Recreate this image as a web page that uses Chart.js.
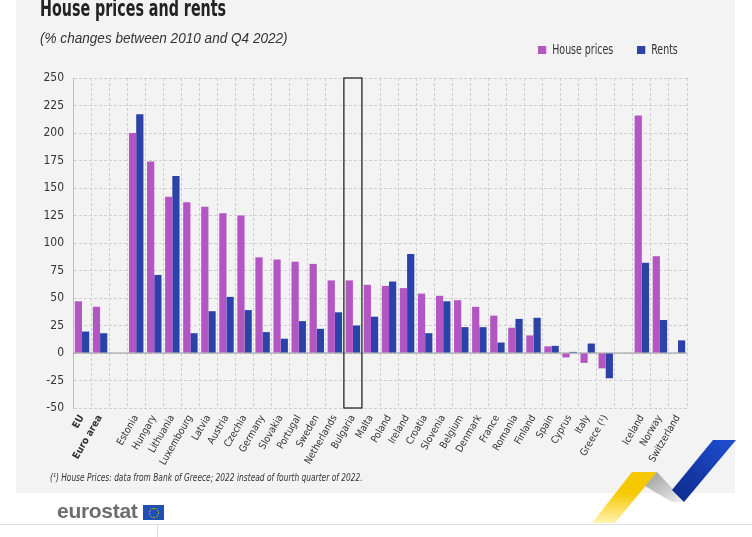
<!DOCTYPE html>
<html>
<head>
<meta charset="utf-8">
<script src="https://cdn.jsdelivr.net/npm/chart.js@4/dist/chart.umd.min.js"></script>
<style>
  body { margin: 0; background: #fff; }
  #wrap { position: relative; width: 752px; height: 537px; overflow: hidden; font-family: "DejaVu Sans Condensed", "Liberation Sans Narrow", sans-serif; }
  #panel { position: absolute; left: 16px; top: 0; width: 719px; height: 493px; background: #f3f3f3; }
  #chartBox { position: absolute; left: 0; top: 0; width: 752px; height: 537px; }
  .narrow { transform-origin: 0 0; white-space: nowrap; }
  .title { position: absolute; left: 40px; top: -5px; font-size: 23px; font-weight: bold; color: #222; transform: scaleX(0.69); }
  .subtitle { position: absolute; left: 40px; top: 30px; font-size: 14px; font-style: italic; color: #333; font-family: "Liberation Sans", sans-serif; transform: scaleX(0.97); }
  .legend { position: absolute; top: 41px; font-size: 14px; color: #333; transform: scaleX(0.75); }
  .legend span.box { display: inline-block; width: 11px; height: 8px; margin-right: 8px; vertical-align: 0px; }
  .note { position: absolute; left: 50px; top: 471px; font-size: 11px; font-style: italic; color: #333; transform: scaleX(0.755); }
  .logo { position: absolute; left: 57px; top: 499px; font-family: "Liberation Sans", sans-serif; font-weight: bold; font-size: 21px; color: #6d6d6d; letter-spacing: -0.3px; }
  .flag { position: absolute; left: 143px; top: 505px; width: 21px; height: 15px; background: #1f4fb3; }
  .flag i { position: absolute; left: 6px; top: 3px; width: 8px; height: 8px; border: 1px dotted #ffd200; border-radius: 50%; }
  #rule { position: absolute; left: 0; top: 524px; width: 752px; height: 1px; background: #ddd; }
  #tick { position: absolute; left: 157px; top: 525px; width: 1px; height: 12px; background: #ddd; }
</style>
</head>
<body>
<div id="wrap">
  <div id="panel"></div>
  <svg style="position:absolute;left:0;top:0" width="752" height="537">
    <defs>
      <linearGradient id="gy" x1="0" y1="1" x2="0" y2="0">
        <stop offset="0" stop-color="#fff3b0"/><stop offset="0.6" stop-color="#f6c800"/>
      </linearGradient>
      <linearGradient id="gg" x1="0" y1="0" x2="1" y2="1">
        <stop offset="0" stop-color="#9a9a9a"/><stop offset="1" stop-color="#f0f0f0"/>
      </linearGradient>
      <linearGradient id="gb" x1="0" y1="1" x2="1" y2="0">
        <stop offset="0" stop-color="#0c2a8a"/><stop offset="1" stop-color="#1f4fd0"/>
      </linearGradient>
    </defs>
    <polygon points="592,523 615,523 657,472 632,472" fill="url(#gy)"/>
    <polygon points="645,486 657,472 685,502 672,502" fill="url(#gg)"/>
    <polygon points="713,440 736,440 684,502 672,490" fill="url(#gb)"/>
  </svg>
  <div id="chartBox"><canvas id="myChart" width="752" height="537"></canvas></div>
  <div class="title narrow">House prices and rents</div>
  <div class="subtitle narrow">(% changes between 2010 and Q4 2022)</div>
  <div class="legend narrow" style="left:538px"><span class="box" style="background:#b455c4"></span>House prices</div>
  <div class="legend narrow" style="left:637px"><span class="box" style="background:#2b43a8"></span>Rents</div>
  <div class="note narrow">(¹) House Prices: data from Bank of Greece; 2022 instead of fourth quarter of 2022.</div>
  <div class="logo">eurostat</div>
  <div class="flag"><i></i></div>
  <div id="rule"></div>
  <div id="tick"></div>
</div>
<script>
const countries = [
    'EU', 'Euro area', '',
    'Estonia', 'Hungary', 'Lithuania', 'Luxembourg', 'Latvia', 'Austria', 'Czechia',
    'Germany', 'Slovakia', 'Portugal', 'Sweden', 'Netherlands', 'Bulgaria', 'Malta',
    'Poland', 'Ireland', 'Croatia', 'Slovenia', 'Belgium', 'Denmark', 'France',
    'Romania', 'Finland', 'Spain', 'Cyprus', 'Italy', 'Greece (¹)', '',
    'Iceland', 'Norway', 'Switzerland',
];

const housePrices = [
    47, 42, null,
    200, 174, 142, 137, 133, 127, 125,
    87, 85, 83, 81, 66, 66, 62,
    61, 59, 54, 52, 48, 42, 34,
    23, 16, 6, -4, -9, -14, null,
    216, 88, null,
];

const rents = [
    19.5, 18, null,
    217, 71, 161, 18, 38, 51, 39,
    19, 13, 29, 22, 37, 25, 33,
    65, 90, 18, 47, 23.5, 23.5, 9.5,
    31, 32, 6.5, 1, 8.6, -23, null,
    82, 30, 11.5,
];

const yTicks = [-50, -25, 0, 25, 50, 75, 100, 125, 150, 175, 200, 225, 250];

const highlighted = 'Bulgaria';

const chartFont = '"DejaVu Sans Condensed", "Liberation Sans Narrow", sans-serif';

// zero line + highlight box around one country
const extras = {
    id: 'extras',
    beforeDatasetsDraw(chart) {
        const {ctx, chartArea, scales} = chart;
        const y0 = scales.y.getPixelForValue(0);
        ctx.save();
        ctx.strokeStyle = '#9a9a9a';
        ctx.lineWidth = 1;
        ctx.beginPath();
        ctx.moveTo(chartArea.left, y0);
        ctx.lineTo(chartArea.right, y0);
        ctx.stroke();
        ctx.restore();
    },
    afterDatasetsDraw(chart) {
        const {ctx, chartArea, scales} = chart;
        const i = countries.indexOf(highlighted);
        const half = (scales.x.getPixelForValue(1) - scales.x.getPixelForValue(0)) / 2;
        const cx = scales.x.getPixelForValue(i);
        ctx.save();
        ctx.strokeStyle = '#2a2a2a';
        ctx.lineWidth = 1.3;
        ctx.strokeRect(cx - half, chartArea.top, half * 2, chartArea.bottom - chartArea.top);
        ctx.restore();
    }
};

const data = {
    labels: countries,
    datasets: [{
        label: 'House prices',
        data: housePrices,
        backgroundColor: '#b455c4',
    }, {
        label: 'Rents',
        data: rents,
        backgroundColor: '#2b43a8',
    }]
};

const config = {
    type: 'bar',
    data: data,
    options: {
        responsive: false,
        animation: false,
        datasets: {
            bar: {
                barPercentage: 1.0,
                categoryPercentage: 0.8,
            }
        },
        layout: {
            padding: {left: 16, top: 78, right: 65, bottom: 59}
        },
        plugins: {
            legend: {display: false},
            tooltip: {enabled: false},
        },
        scales: {
            x: {
                grid: {color: '#cfcfcf', offset: true, drawTicks: false},
                border: {display: false, dash: [3, 2]},
                ticks: {
                    autoSkip: false,
                    maxRotation: 60,
                    minRotation: 60,
                    padding: 5,
                    color: '#333',
                    font: (c) => ({
                        family: chartFont,
                        size: 10,
                        weight: c.index < 2 ? 'bold' : 'normal',
                    }),
                },
                afterFit(scale) { scale.height = 70; },
            },
            y: {
                min: -50,
                max: 250,
                afterBuildTicks(scale) {
                    scale.ticks = yTicks.map(v => ({value: v}));
                },
                grid: {color: '#cfcfcf', drawTicks: false},
                border: {display: true, color: '#bdbdbd', dash: [3, 2]},
                ticks: {
                    padding: 9,
                    color: '#333',
                    font: {family: chartFont, size: 12},
                },
                afterFit(scale) { scale.width = 57; },
            }
        }
    },
    plugins: [extras],
};

const myChart = new Chart(
    document.getElementById('myChart'),
    config
);
</script>
</body>
</html>
